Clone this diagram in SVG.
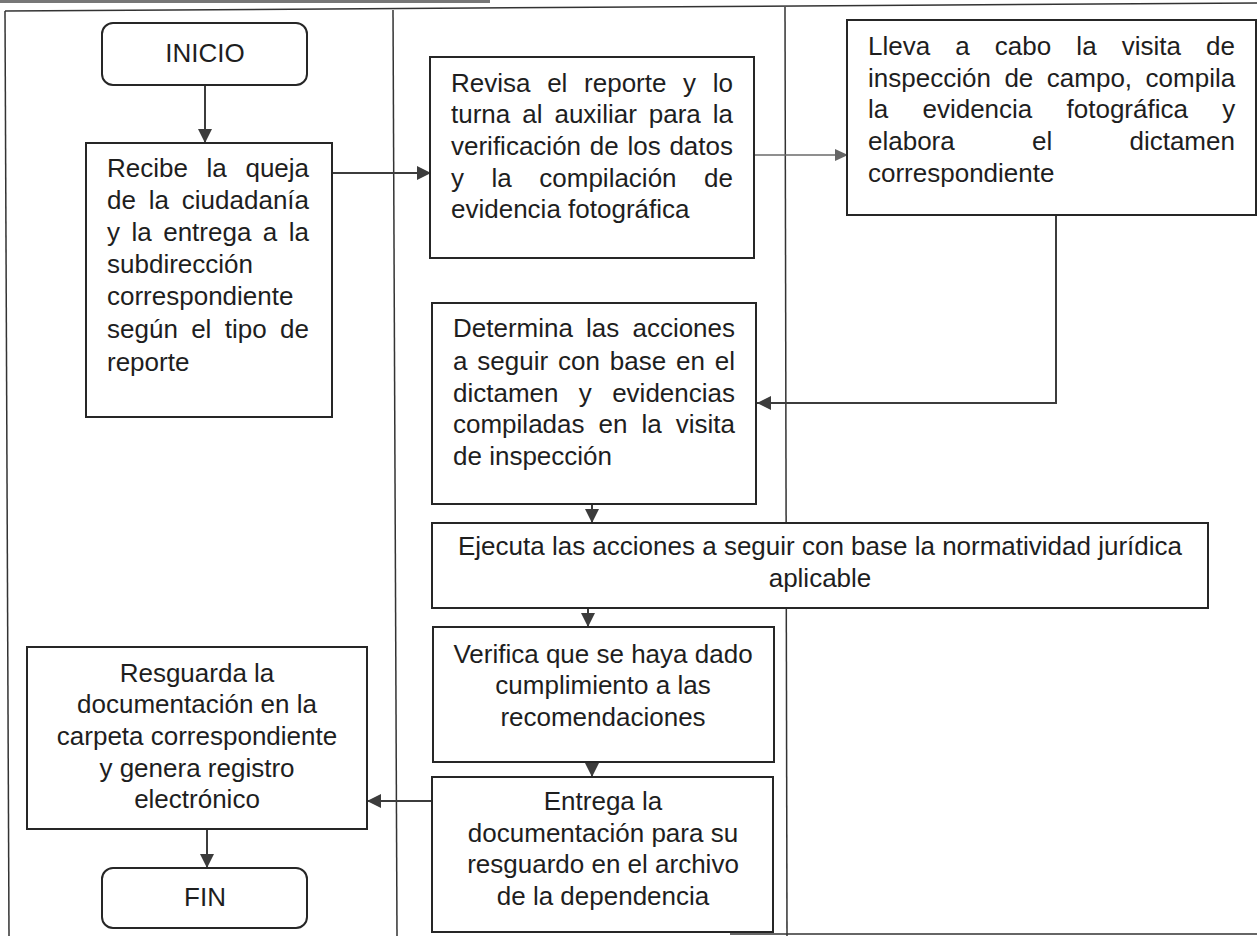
<svg xmlns="http://www.w3.org/2000/svg" width="1257" height="936" viewBox="0 0 1257 936">
<style>
.box{fill:#fff;stroke:#262626;stroke-width:2}
.frame{stroke:#333;stroke-width:1.5;fill:none}
.t{font-family:"Liberation Sans",Arial,sans-serif;font-size:26px;fill:#1e1e1e}
.c{text-anchor:middle}
.con{stroke:#3c3c3c;stroke-width:2;fill:none}
.thin{stroke:#6a6a6a;stroke-width:1.4;fill:none}
</style>
<defs>
<marker id="ah" markerUnits="userSpaceOnUse" markerWidth="15" markerHeight="15" refX="14" refY="7" orient="auto">
<path d="M0,0 L14,7 L0,14 Z" fill="#3c3c3c"/>
</marker>
<marker id="ahl" markerUnits="userSpaceOnUse" markerWidth="15" markerHeight="15" refX="13" refY="6" orient="auto">
<path d="M0,0 L13,6 L0,12 Z" fill="#666"/>
</marker>
</defs>
<rect width="1257" height="936" fill="#fff"/>
<rect x="0" y="0" width="490" height="3" fill="#777"/>
<g id="frame">
<path class="frame" d="M5,11 L1257,3"/>
<path class="frame" d="M5,11 L9,936"/>
<path class="frame" d="M393,10 L397,936"/>
<path class="frame" d="M785,7 L787,936"/>
<path class="frame" d="M730,934 L1257,934"/>
</g>
<g id="connectors">
<path class="con" d="M205,85 V143" marker-end="url(#ah)"/>
<path class="con" d="M332,173 H431" marker-end="url(#ah)"/>
<path class="thin" d="M754,155 H848" marker-end="url(#ahl)"/>
<path class="con" d="M1056,215 V403 H757" marker-end="url(#ah)"/>
<path class="con" d="M592,504 V523" marker-end="url(#ah)"/>
<path class="con" d="M588,608 V627" marker-end="url(#ah)"/>
<path class="con" d="M592,762 V777" marker-end="url(#ah)"/>
<path class="con" d="M432,801 H367" marker-end="url(#ah)"/>
<path class="con" d="M207,829 V868" marker-end="url(#ah)"/>
</g>
<g id="inicio">
<rect class="box" x="102" y="23" width="205" height="62" rx="11"/>
<text class="t c" x="205" y="62">INICIO</text>
</g>
<g id="recibe">
<rect class="box" x="86" y="143" width="246" height="274"/>
<text class="t" x="107" y="177" word-spacing="11.4">Recibe la queja</text>
<text class="t" x="107" y="209" word-spacing="5.6">de la ciudadanía</text>
<text class="t" x="107" y="241" word-spacing="4.25">y la entrega a la</text>
<text class="t" x="107" y="273">subdirección</text>
<text class="t" x="107" y="305">correspondiente</text>
<text class="t" x="107" y="338" word-spacing="6.1">según el tipo de</text>
<text class="t" x="107" y="371">reporte</text>
</g>
<g id="revisa">
<rect class="box" x="430" y="57" width="324" height="201"/>
<text class="t" x="451" y="92" word-spacing="9.45">Revisa el reporte y lo</text>
<text class="t" x="451" y="123" word-spacing="4.75">turna al auxiliar para la</text>
<text class="t" x="451" y="155" word-spacing="1.5">verificación de los datos</text>
<text class="t" x="451" y="187" word-spacing="20.3">y la compilación de</text>
<text class="t" x="451" y="218">evidencia fotográfica</text>
</g>
<g id="lleva">
<rect class="box" x="847" y="20" width="409" height="195"/>
<text class="t" x="868" y="55" word-spacing="17.9">Lleva a cabo la visita de</text>
<text class="t" x="868" y="87" word-spacing="6.3">inspección de campo, compila</text>
<text class="t" x="868" y="118" word-spacing="27">la evidencia fotográfica y</text>
<text class="t" x="868" y="150" word-spacing="70">elabora el dictamen</text>
<text class="t" x="868" y="182">correspondiente</text>
</g>
<g id="determina">
<rect class="box" x="432" y="303" width="324" height="201"/>
<text class="t" x="453" y="337" word-spacing="5.9">Determina las acciones</text>
<text class="t" x="453" y="370" word-spacing="2.64">a seguir con base en el</text>
<text class="t" x="453" y="402" word-spacing="13.1">dictamen y evidencias</text>
<text class="t" x="453" y="433" word-spacing="6.8">compiladas en la visita</text>
<text class="t" x="453" y="465">de inspección</text>
</g>
<g id="ejecuta">
<rect class="box" x="432" y="523" width="776" height="85"/>
<text class="t c" x="820" y="555">Ejecuta las acciones a seguir con base la normatividad jurídica</text>
<text class="t c" x="820" y="587">aplicable</text>
</g>
<g id="verifica">
<rect class="box" x="433" y="627" width="341" height="135"/>
<text class="t c" x="603" y="663">Verifica que se haya dado</text>
<text class="t c" x="603" y="694">cumplimiento a las</text>
<text class="t c" x="603" y="726">recomendaciones</text>
</g>
<g id="entrega">
<rect class="box" x="432" y="777" width="341" height="155"/>
<text class="t c" x="603" y="810">Entrega la</text>
<text class="t c" x="603" y="842">documentación para su</text>
<text class="t c" x="603" y="873">resguardo en el archivo</text>
<text class="t c" x="603" y="905">de la dependencia</text>
</g>
<g id="resguarda">
<rect class="box" x="27" y="647" width="340" height="182"/>
<text class="t c" x="197" y="682">Resguarda la</text>
<text class="t c" x="197" y="713">documentación en la</text>
<text class="t c" x="197" y="745">carpeta correspondiente</text>
<text class="t c" x="197" y="777">y genera registro</text>
<text class="t c" x="197" y="808">electrónico</text>
</g>
<g id="fin">
<rect class="box" x="102" y="868" width="205" height="60" rx="11"/>
<text class="t c" x="205" y="906">FIN</text>
</g>
</svg>
